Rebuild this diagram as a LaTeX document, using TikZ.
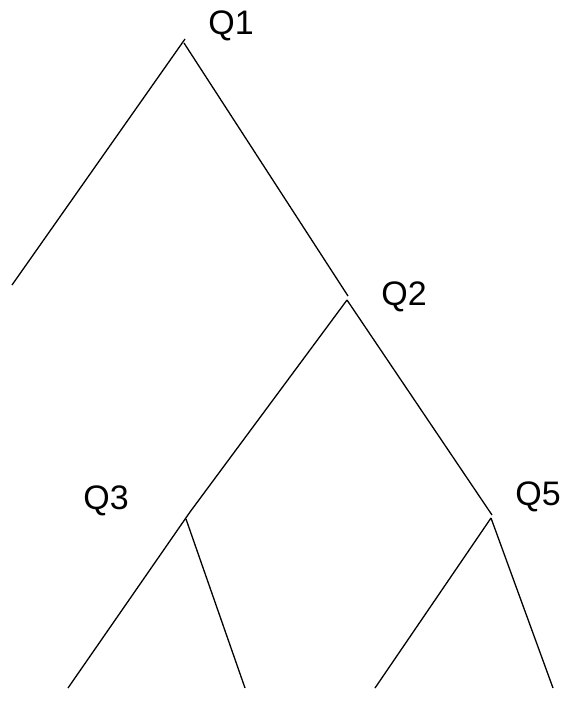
\documentclass[tikz,border=0pt]{standalone}
\usepackage{fontspec}
\setmainfont{Liberation Sans}
\begin{document}
\begin{tikzpicture}[x=1pt,y=-1pt,
  branch/.style={line width=1.3pt,black},
  qlabel/.style={font=\fontsize{34}{40}\selectfont,anchor=base,inner sep=0pt}]
\useasboundingbox (0,0) rectangle (572,718);
% junction points
\coordinate (j1l) at (185,39);
\coordinate (j1r) at (184,43);
\coordinate (a1) at (12,285);
\coordinate (j2u) at (348,296);
\coordinate (j2) at (347,300);
\coordinate (j3u) at (190,512);
\coordinate (j3) at (186,519);
\coordinate (b3l) at (68,688);
\coordinate (b3r) at (245,688);
\coordinate (j5u) at (492,515);
\coordinate (j5) at (491,518);
\coordinate (b5l) at (375,688);
\coordinate (b5r) at (553,688);
% labels
\node[qlabel] (q1) at (231,34) {Q1};
\node[qlabel] (q2) at (404,305) {Q2};
\node[qlabel] (q3) at (106,509) {Q3};
\node[qlabel] (q5) at (538,505) {Q5};
% branches
\draw[branch] (j1l) -- (a1);
\draw[branch] (j1r) -- (j2u);
\draw[branch] (j2) -- (j3u);
\draw[branch] (j2) -- (j5u);
\draw[branch] (j3u) -- (b3l);
\draw[branch] (j3) -- (b3r);
\draw[branch] (j5) -- (b5l);
\draw[branch] (j5) -- (b5r);
\end{tikzpicture}
\end{document}
